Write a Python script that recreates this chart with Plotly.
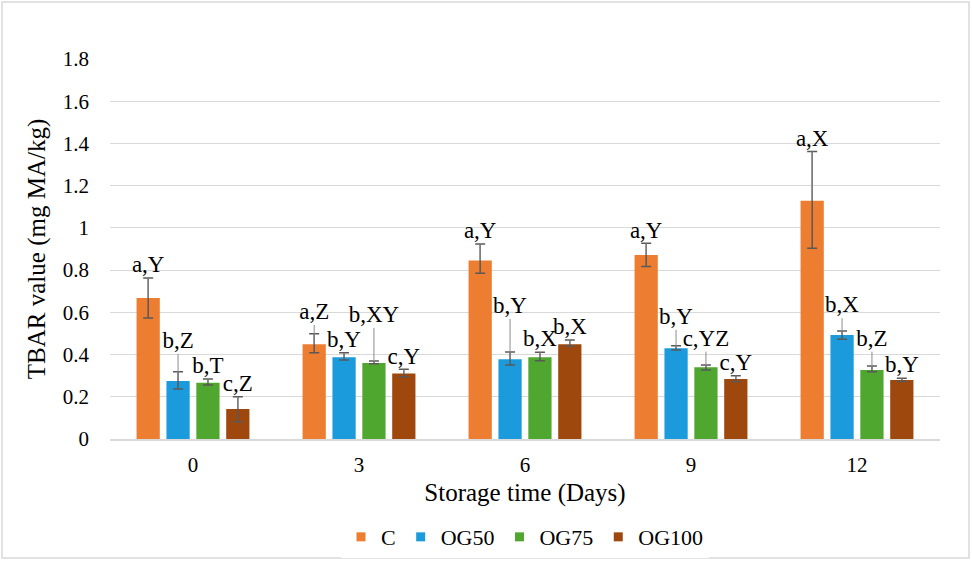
import plotly.graph_objects as go

# ---- data ----
days = ["0", "3", "6", "9", "12"]
series = ["C", "OG50", "OG75", "OG100"]
colors = ["#ED7D31", "#1B9BDB", "#4FA72F", "#9E480E"]

values = {
    "C":     [0.668, 0.449, 0.845, 0.872, 1.129],
    "OG50":  [0.275, 0.387, 0.378, 0.430, 0.493],
    "OG75":  [0.267, 0.360, 0.387, 0.340, 0.327],
    "OG100": [0.142, 0.310, 0.449, 0.284, 0.280],
}
# capped error bars (upper / lower amounts)
err_plus = {
    "C":     [0.095, 0.049, 0.079, 0.055, 0.233],
    "OG50":  [0.043, 0.022, 0.034, 0.012, 0.019],
    "OG75":  [0.017, 0.009, 0.024, 0.011, 0.019],
    "OG100": [0.058, 0.020, 0.020, 0.016, 0.008],
}
err_minus = {
    "C":     [0.095, 0.040, 0.060, 0.055, 0.225],
    "OG50":  [0.038, 0.013, 0.027, 0.008, 0.021],
    "OG75":  [0.011, 0.003, 0.016, 0.013, 0.008],
    "OG100": [0.060, 0.015, 0.009, 0.012, 0.008],
}
# uncapped upper whisker extent (amount above bar)
whisker_plus = {
    "C":     [0.095, 0.091, 0.079, 0.055, 0.233],
    "OG50":  [0.128, 0.022, 0.191, 0.087, 0.079],
    "OG75":  [0.017, 0.166, 0.024, 0.074, 0.087],
    "OG100": [0.058, 0.020, 0.020, 0.016, 0.008],
}
labels = {
    "C":     ["a,Y", "a,Z", "a,Y", "a,Y", "a,X"],
    "OG50":  ["b,Z", "b,Y", "b,Y", "b,Y", "b,X"],
    "OG75":  ["b,T", "b,XY", "b,X", "c,YZ", "b,Z"],
    "OG100": ["c,Z", "c,Y", "b,X", "c,Y", "b,Y"],
}
y_ticks = [0, 0.2, 0.4, 0.6, 0.8, 1, 1.2, 1.4, 1.6, 1.8]
y_ticktext = ["0", "0.2", "0.4", "0.6", "0.8", "1", "1.2", "1.4", "1.6", "1.8"]

# ---- layout constants ----
W, H = 972, 564
ML, MR, MT, MB = 110, 32, 59, 125
SLOT = 0.18
BAR_W = 0.14
FONT = "Liberation Serif"

fig = go.Figure()
n = len(series)
for j, s in enumerate(series):
    off = (j - (n - 1) / 2) * SLOT
    xs = [i + off for i in range(len(days))]
    # long uncapped whisker lines
    fig.add_trace(go.Scatter(
        x=xs, y=values[s], mode="markers",
        marker=dict(size=1, opacity=0),
        error_y=dict(type="data", symmetric=False, array=whisker_plus[s],
                     arrayminus=[0] * len(days), color="#8C8C8C",
                     thickness=1, width=0),
        showlegend=False, hoverinfo="skip"))
    fig.add_trace(go.Bar(
        x=xs, y=values[s], width=BAR_W, name=s, showlegend=False,
        marker=dict(color=colors[j], line=dict(width=0)),
        error_y=dict(type="data", symmetric=False, array=err_plus[s],
                     arrayminus=err_minus[s], color="#595959",
                     thickness=1.5, width=5)))

for j, s in enumerate(series):
    off = (j - (n - 1) / 2) * SLOT
    xs = [i + off for i in range(len(days))]
    tops = [v + w for v, w in zip(values[s], whisker_plus[s])]
    fig.add_trace(go.Scatter(
        x=xs, y=tops, mode="text", text=labels[s],
        textposition="top center",
        textfont=dict(family=FONT, size=23, color="#000000"),
        showlegend=False, hoverinfo="skip", cliponaxis=False))

# legend entries with small square swatches
for j, s in enumerate(series):
    fig.add_trace(go.Scatter(
        x=[None], y=[None], mode="markers", name=s,
        marker=dict(symbol="square", size=9, color=colors[j]),
        showlegend=True, hoverinfo="skip"))

pw = W - ML - MR
ph = H - MT - MB
fig.add_shape(type="rect", xref="paper", yref="paper",
              x0=(2 - ML) / pw, x1=(W - 3 - ML) / pw,
              y0=-(H - 6 - MT - ph) / ph, y1=(ph + MT - 2) / ph,
              line=dict(color="#D9D9D9", width=1.5), layer="below")

fig.update_layout(
    width=W, height=H,
    margin=dict(l=ML, r=MR, t=MT, b=MB, autoexpand=False),
    paper_bgcolor="white", plot_bgcolor="white",
    barmode="overlay",
    font=dict(family=FONT, size=21, color="#000000"),
    legend=dict(orientation="h", x=0.5, xanchor="center",
                y=-0.258, yanchor="middle",
                font=dict(family=FONT, size=22, color="#000000"),
                itemwidth=30, tracegroupgap=0, traceorder="normal"),
    xaxis=dict(range=[-0.5, len(days) - 0.5],
               tickvals=list(range(len(days))), ticktext=days,
               showgrid=False, zeroline=False, automargin=False,
               showline=True, linecolor="#D9D9D9", linewidth=1.5,
               ticks="", ticklabelstandoff=6,
               tickfont=dict(family=FONT, size=21),
               title=dict(text="Storage time (Days)", standoff=8,
                          font=dict(family=FONT, size=25))),
    yaxis=dict(range=[0, 1.8], tickvals=y_ticks, ticktext=y_ticktext,
               showgrid=True, gridcolor="#D9D9D9", gridwidth=1.2,
               zeroline=False, ticks="", ticklabelstandoff=20,
               automargin=False,
               tickfont=dict(family=FONT, size=21),
               title=dict(text="TBAR value (mg MA/kg)", standoff=10,
                          font=dict(family=FONT, size=25))),
)

fig.write_html("out.html")
